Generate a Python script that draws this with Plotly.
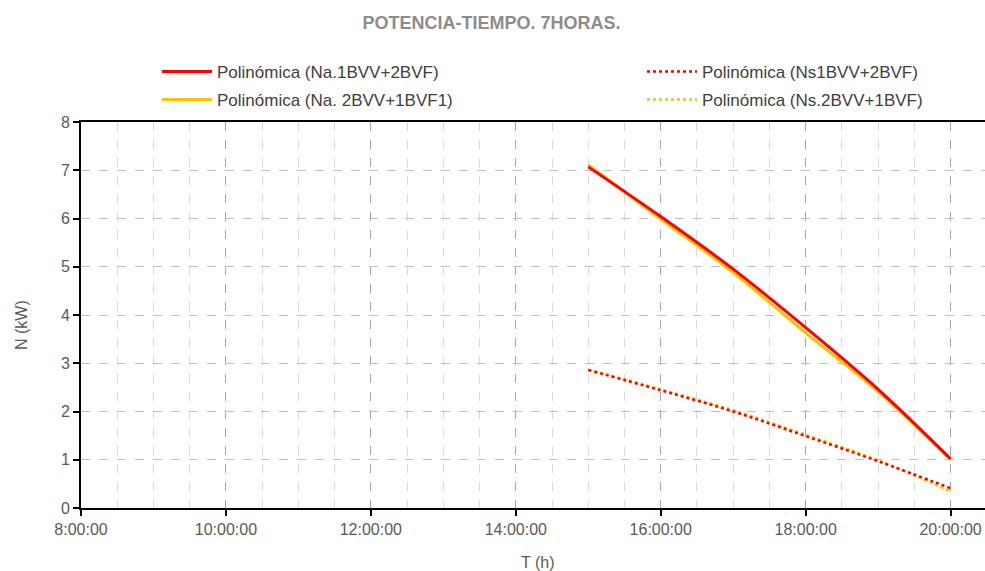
import plotly.graph_objects as go

hours = ["15:00:00", "16:00:00", "17:00:00", "18:00:00", "19:00:00", "20:00:00"]
na1 = [7.07, 6.04, 4.95, 3.74, 2.46, 1.02]
na2 = [7.11, 5.99, 4.88, 3.63, 2.41, 1.00]
ns1 = [2.86, 2.44, 2.00, 1.49, 0.97, 0.41]
ns2 = [2.87, 2.46, 2.03, 1.52, 0.99, 0.34]
names = ["Polinómica (Na.1BVV+2BVF)", "Polinómica (Ns1BVV+2BVF)",
         "Polinómica (Na. 2BVV+1BVF1)", "Polinómica (Ns.2BVV+1BVF)"]
title = "POTENCIA-TIEMPO. 7HORAS."
xtitle = "T (h)"
ytitle = "N (kW)"

day = "2024-01-01 "
x = [day + h for h in hours]

RED = "#FF0000"
YEL = "#FFC000"

fig = go.Figure()
# yellow drawn first so red lies on top
fig.add_trace(go.Scatter(x=x, y=na2, name=names[2], mode="lines", line_shape="spline",
                         line=dict(color=YEL, width=3), legend="legend3"))
fig.add_trace(go.Scatter(x=x, y=ns2, name=names[3], mode="lines", line_shape="spline",
                         line=dict(color=YEL, width=2.5, dash="dot"), legend="legend4"))
fig.add_trace(go.Scatter(x=x, y=na1, name=names[0], mode="lines", line_shape="spline",
                         line=dict(color=RED, width=3), legend="legend"))
fig.add_trace(go.Scatter(x=x, y=ns1, name=names[1], mode="lines", line_shape="spline",
                         line=dict(color=RED, width=2.5, dash="dot"), legend="legend2"))

leg_common = dict(orientation="v", xref="container", yref="container", yanchor="middle",
                  xanchor="left", font=dict(size=17, color="#404040"),
                  bgcolor="rgba(0,0,0,0)", itemwidth=50, tracegroupgap=0)

row1 = 1 - 72 / 571
row2 = 1 - 100 / 571
col1 = 157 / 985
col2 = 642 / 985

fig.update_layout(
    width=985, height=571,
    margin=dict(l=81, r=0, t=122, b=63, autoexpand=False),
    paper_bgcolor="white", plot_bgcolor="white",
    font=dict(family="Liberation Sans, Arial, sans-serif", color="#595959", size=14),
    title=dict(text="<b>" + title + "</b>", x=0.499, xanchor="center", y=0.961, yanchor="middle",
               font=dict(size=18, color="#8c8c8c")),
    legend=dict(x=col1, y=row1, **leg_common),
    legend2=dict(x=col2, y=row1, **leg_common),
    legend3=dict(x=col1, y=row2, **leg_common),
    legend4=dict(x=col2, y=row2, **leg_common),
    showlegend=True,
)

fig.update_xaxes(
    type="date", range=[day + "08:00:00", day + "20:28:30"], automargin=False,
    dtick=7200000, tick0=day + "08:00:00", tickformat="%-H:%M:%S",
    showgrid=True, gridcolor="#a6a6a6", griddash="dash", gridwidth=1,
    minor=dict(dtick=1800000, tick0=day + "08:00:00", showgrid=True, gridcolor="#d9d9d9",
               griddash="dash", gridwidth=1),
    showline=True, linecolor="black", linewidth=2, mirror=True,
    ticks="outside", ticklen=6, tickcolor="black", tickwidth=2,
    tickfont=dict(size=16, color="#595959"),
    zeroline=False,
)
fig.update_yaxes(
    range=[0, 8], dtick=1, automargin=False,
    showgrid=True, gridcolor="#bfbfbf", griddash="dash", gridwidth=1,
    showline=True, linecolor="black", linewidth=2,
    ticks="outside", ticklen=6, tickcolor="black", tickwidth=2,
    tickfont=dict(size=16, color="#595959"),
    zeroline=False,
)

fig.add_annotation(text=xtitle, xref="paper", yref="paper", x=(537 - 81) / 904, y=(508 - 562) / 386,
                   xanchor="center", yanchor="middle", showarrow=False,
                   font=dict(size=16, color="#595959"))
fig.add_annotation(text=ytitle, xref="paper", yref="paper", x=(21 - 81) / 904, y=(508 - 325) / 386,
                   xanchor="center", yanchor="middle", showarrow=False, textangle=-90,
                   font=dict(size=16, color="#595959"))

fig.write_html("out.html", config={"displayModeBar": False},
               post_script="document.body.style.margin='0';")
